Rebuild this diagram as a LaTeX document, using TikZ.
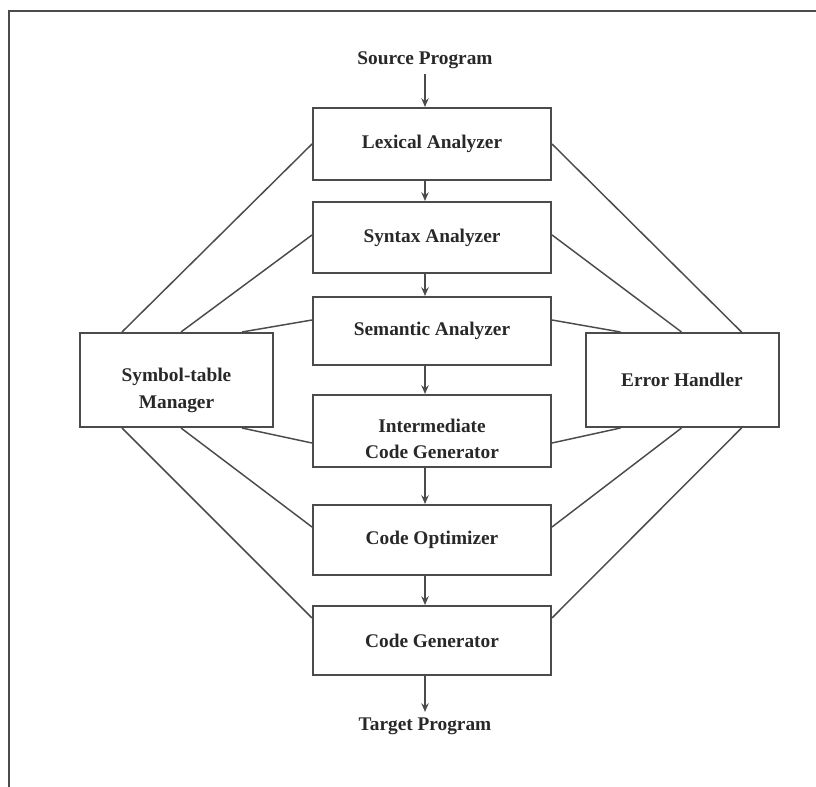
\documentclass[tikz,border=0pt]{standalone}
\usepackage{fontspec}
\setmainfont{Liberation Serif}
\usetikzlibrary{arrows.meta}
\definecolor{ln}{RGB}{75,75,75}
\definecolor{tx}{RGB}{40,40,40}
\begin{document}
\begin{tikzpicture}[x=0.75pt,y=-0.75pt,
  stage/.style={draw=ln, line width=1.5pt, minimum width=178.5pt, inner sep=0pt,
    align=center, text=tx, font=\bfseries\fontsize{14.5}{20}\selectfont},
  side/.style={stage, minimum width=144.75pt, minimum height=70.5pt},
  termtext/.style={text=tx, font=\bfseries\fontsize{14.5}{20}\selectfont, inner sep=4pt},
  link/.style={draw=ln, line width=1.1pt},
  flow/.style={draw=ln, line width=1.1pt, -{Stealth[length=6.5pt,width=5.5pt]}}]
\useasboundingbox (0,0) rectangle (816,787);
\draw[draw=ln, line width=1.5pt] (9,787) -- (9,11) -- (816,11);

\node[termtext] (src) at (425,60) {Source Program};
\node[stage, minimum height=54pt] (lex) at (432,144) {Lexical Analyzer};
\node[stage, minimum height=53.25pt] (syn) at (432,237.5) {Syntax Analyzer};
\node[stage, minimum height=51pt] (sem) at (432,331) {Semantic Analyzer};
\node[stage, minimum height=54pt] (int) at (432,431) {\rule{0pt}{22pt}Intermediate\\Code Generator};
\node[stage, minimum height=52.5pt] (opt) at (432,540) {Code Optimizer};
\node[stage, minimum height=51.75pt] (gen) at (432,640.5) {Code Generator};
\node[termtext] (tgt) at (425,726) {Target Program};
\node[side] (sym) at (176.5,380) {\rule{0pt}{26pt}Symbol-table\\Manager};
\node[side] (err) at (682,380) {Error Handler};

% main flow
\draw[flow] (src.south) -- (src.south |- lex.north);
\draw[flow] ([xshift=-5.25pt]lex.south) -- ([xshift=-5.25pt]syn.north);
\draw[flow] ([xshift=-5.25pt]syn.south) -- ([xshift=-5.25pt]sem.north);
\draw[flow] ([xshift=-5.25pt]sem.south) -- ([xshift=-5.25pt]int.north);
\draw[flow] ([xshift=-5.25pt]int.south) -- ([xshift=-5.25pt]opt.north);
\draw[flow] ([xshift=-5.25pt]opt.south) -- ([xshift=-5.25pt]gen.north);
\draw[flow] ([xshift=-5.25pt]gen.south) -- ([xshift=-5.25pt]gen.south |- tgt.north);

% symbol-table links
\draw[link] ([xshift=32.25pt]sym.north west) -- (lex.west);
\draw[link] ([xshift=76.5pt]sym.north west) -- ([yshift=1.9pt]syn.west);
\draw[link] ([xshift=122.25pt]sym.north west) -- ([yshift=8.25pt]sem.west);
\draw[link] ([xshift=122.25pt]sym.south west) -- ([yshift=-9pt]int.west);
\draw[link] ([xshift=76.5pt]sym.south west) -- ([yshift=9.75pt]opt.west);
\draw[link] ([xshift=32.25pt]sym.south west) -- ([yshift=16.9pt]gen.west);

% error handler links
\draw[link] ([xshift=117.75pt]err.north west) -- (lex.east);
\draw[link] ([xshift=72.75pt]err.north west) -- ([yshift=1.9pt]syn.east);
\draw[link] ([xshift=27pt]err.north west) -- ([yshift=8.25pt]sem.east);
\draw[link] ([xshift=27pt]err.south west) -- ([yshift=-9pt]int.east);
\draw[link] ([xshift=72.75pt]err.south west) -- ([yshift=9.75pt]opt.east);
\draw[link] ([xshift=117.75pt]err.south west) -- ([yshift=16.9pt]gen.east);
\end{tikzpicture}
\end{document}
